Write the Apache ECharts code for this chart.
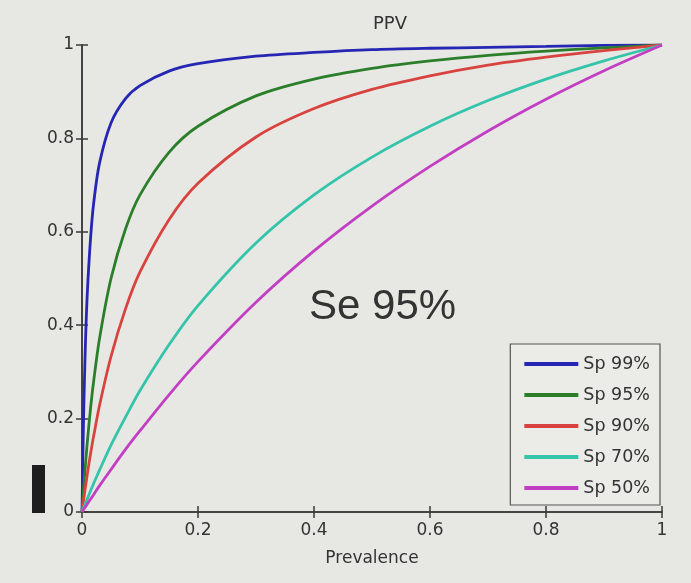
<!DOCTYPE html>
<html>
<head>
<meta charset="utf-8">
<script src="https://cdn.jsdelivr.net/npm/echarts@6/dist/echarts.min.js"></script>
<style>
  html, body { margin: 0; padding: 0; background: #e7e7e3; }
  #chart { width: 691px; height: 583px; }
</style>
</head>
<body>
<div id="chart"></div>
<script>
// PPV vs prevalence, Se 95%
const prevalence = [0, 0.0025, 0.005, 0.0075, 0.01, 0.015, 0.02, 0.03, 0.05, 0.075, 0.1, 0.15, 0.2, 0.3, 0.4, 0.5, 0.6, 0.7, 0.8, 0.9, 1];
const names = ["Sp 99%", "Sp 95%", "Sp 90%", "Sp 70%", "Sp 50%"];
const colors = ["#2626b4", "#2b7f2b", "#d9433f", "#34c4aa", "#c23fc4"];
const sp99 = [0, 0.19, 0.32, 0.42, 0.49, 0.59, 0.66, 0.746, 0.833, 0.885, 0.913, 0.944, 0.96, 0.976, 0.984, 0.99, 0.993, 0.995, 0.997, 0.999, 1];
const sp95 = [0, 0.046, 0.087, 0.125, 0.161, 0.225, 0.279, 0.37, 0.5, 0.606, 0.679, 0.77, 0.826, 0.891, 0.927, 0.95, 0.966, 0.978, 0.987, 0.994, 1];
const sp90 = [0, 0.023, 0.046, 0.067, 0.088, 0.127, 0.162, 0.227, 0.333, 0.435, 0.514, 0.626, 0.704, 0.803, 0.864, 0.905, 0.934, 0.957, 0.974, 0.988, 1];
const sp70 = [0, 0.008, 0.016, 0.023, 0.031, 0.046, 0.061, 0.089, 0.143, 0.203, 0.26, 0.358, 0.442, 0.576, 0.679, 0.76, 0.826, 0.881, 0.927, 0.966, 1];
const sp50 = [0, 0.005, 0.009, 0.014, 0.019, 0.028, 0.037, 0.056, 0.091, 0.134, 0.174, 0.251, 0.322, 0.449, 0.559, 0.655, 0.74, 0.816, 0.884, 0.945, 1];
const curves = [sp99, sp95, sp90, sp70, sp50];

const font = "DejaVu Sans";
const chart = echarts.init(document.getElementById("chart"));

const axisBase = {
  type: "value", min: 0, max: 1, interval: 0.2,
  axisLine: { show: true, lineStyle: { color: "#3a3a3a", width: 1.5 } },
  axisTick: { show: true, inside: true, length: 6, lineStyle: { color: "#3a3a3a", width: 1.5 } },
  splitLine: { show: false },
};
const lbl = { color: "#333", fontSize: 17, fontFamily: font, formatter: v => String(+v.toFixed(1)) };

chart.setOption({
  backgroundColor: "#e7e7e3",
  animation: false,
  title: {
    text: "PPV", left: 385, top: 10, textAlign: "center",
    textStyle: { color: "#333", fontSize: 18, fontWeight: "normal", fontFamily: font },
  },
  grid: { left: 82, right: 29, top: 45, bottom: 71 },
  xAxis: [
    Object.assign({}, axisBase, {
      position: "bottom", name: "Prevalence", nameLocation: "middle", nameGap: 38,
      nameTextStyle: { color: "#333", fontSize: 17, fontFamily: font },
      axisLabel: Object.assign({ margin: 10 }, lbl),
    }),
    Object.assign({}, axisBase, { position: "top", axisLabel: { show: false } }),
  ],
  yAxis: [
    Object.assign({}, axisBase, { position: "left", axisLabel: Object.assign({ margin: 8 }, lbl) }),
    Object.assign({}, axisBase, { position: "right", axisLabel: { show: false } }),
  ],
  legend: {
    orient: "vertical", right: 31, bottom: 78,
    backgroundColor: "#ebebe8", borderColor: "#555", borderWidth: 1.2,
    padding: [11, 10, 8, 14], itemGap: 13, itemWidth: 54, itemHeight: 4,
    icon: "rect",
    textStyle: { color: "#333", fontSize: 17.5, fontFamily: font },
    data: names,
  },
  graphic: [
    { type: "text", left: 309, top: 286,
      style: { text: "Se 95%", fill: "#333", fontSize: 42, fontFamily: "Liberation Sans" } },
    { type: "rect", shape: { x: 32, y: 465, width: 13, height: 48 }, style: { fill: "#1e1e1e" } },
  ],
  series: curves.map((c, i) => ({
    name: names[i], type: "line", smooth: 0.3, symbol: "none",
    xAxisIndex: 0, yAxisIndex: 0,
    lineStyle: { color: colors[i], width: 2.8 }, itemStyle: { color: colors[i] },
    data: prevalence.map((p, j) => [p, c[j]]),
  })),
});
</script>
</body>
</html>
